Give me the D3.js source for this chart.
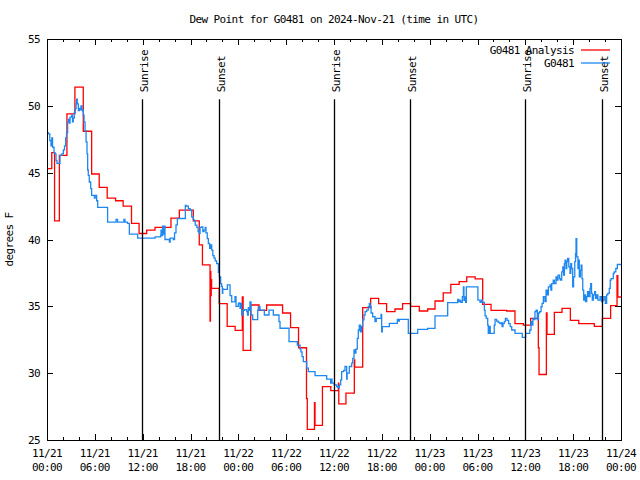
<!DOCTYPE html>
<html><head><meta charset="utf-8">
<script src="https://cdn.jsdelivr.net/npm/d3@7"></script>
<style>
body{margin:0;background:#fff;}
svg{display:block;}
text{font-family:"DejaVu Sans Mono","Liberation Mono",monospace;font-size:11px;letter-spacing:-0.6px;fill:#000;}
</style></head><body>
<svg id="chart" width="640" height="480"></svg>
<script>
// ---- data (hours since 2024-11-21 00:00 UTC, dew point in degrees F) ----
const chartTitle = "Dew Point for G0481 on 2024-Nov-21 (time in UTC)";
const yAxisLabel = "degrees F";
const seriesNames = ["G0481 Analysis", "G0481"];
const seriesColors = ["#ff0000", "#1e88f0"];
const yTicks = [25, 30, 35, 40, 45, 50, 55];
const sunLabels = ["Sunrise", "Sunset", "Sunrise", "Sunset", "Sunrise", "Sunset"];
const sunHours = [11.95, 21.6, 36.0, 45.57, 60.02, 69.65];

const analysisHours = [0.0,0.6,0.95,1.55,2.5,3.5,4.55,5.6,6.55,7.55,8.6,9.55,10.6,11.55,12.5,13.55,15.55,16.6,18.35,19.1,19.5,20.45,20.5,20.55,20.6,20.65,21.6,22.6,23.6,24.5,24.6,25.55,26.6,27.55,29.55,30.55,31.55,32.55,32.65,33.55,33.62,34.55,35.6,36.55,36.6,37.5,38.55,38.6,39.6,40.6,41.6,42.6,43.65,44.6,45.6,46.7,47.75,48.67,49.7,50.65,51.7,52.65,53.7,54.65,55.7,57.66,58.7,59.75,60.67,61.63,61.72,62.64,62.72,63.64,64.6,65.65,66.7,68.65,69.66,70.7,71.5,71.6,72.0];
const analysisValues = [45.3,46.5,41.4,46.3,49.4,51.4,48.1,44.9,43.9,43.1,42.9,42.5,41.2,40.45,40.7,40.9,41.6,42.2,41.4,39.6,38.1,33.9,37.6,35.8,37.0,36.35,35.2,33.5,33.2,35.7,31.7,35.1,34.7,35.1,34.5,33.4,31.9,28.1,25.8,27.8,26.1,29.0,28.7,29.25,27.7,28.5,31.0,30.45,34.9,35.6,35.2,34.6,34.8,35.2,35.0,34.65,34.8,35.4,36.0,36.65,36.85,37.2,37.05,35.15,34.7,34.65,33.7,33.6,34.1,31.9,29.9,34.5,32.9,34.55,34.85,33.95,33.7,33.5,34.1,35.05,37.3,35.7,35.7];

const obsHours = [0.0,0.17,0.35,0.5,0.6,0.7,0.88,1.0,1.13,1.25,1.63,1.85,2.05,2.2,2.34,2.45,2.59,2.7,2.8,2.89,3.1,3.2,3.3,3.43,3.55,3.65,3.72,3.8,3.93,4.05,4.15,4.26,4.4,4.56,4.65,4.77,4.9,5.02,5.1,5.18,5.3,5.48,5.6,5.94,6.05,6.23,6.36,7.6,8.66,8.85,9.65,9.78,10.1,10.33,11.37,12.0,13.55,14.26,14.3,14.4,14.5,14.6,14.7,14.8,15.35,15.45,15.85,16.0,16.18,16.35,17.35,17.5,17.73,17.95,18.15,18.35,18.45,18.6,18.8,18.95,19.1,19.2,19.4,19.55,19.7,19.85,19.94,20.1,20.24,20.4,20.55,20.66,20.8,20.95,21.1,21.28,21.5,21.62,21.78,21.9,22.0,22.05,22.1,22.62,22.96,23.17,23.58,23.71,24.0,24.1,24.21,24.3,24.42,24.55,24.75,25.05,25.15,25.25,25.4,25.46,25.59,25.8,26.43,26.5,26.72,27.26,27.85,28.39,29.1,29.23,30.36,31.4,31.74,31.85,31.99,32.15,32.58,32.78,33.62,35.08,35.58,35.7,35.75,36.04,36.34,36.5,36.67,36.84,36.96,37.2,37.38,37.59,37.65,37.92,38.22,38.35,38.51,38.62,38.75,38.92,39.05,39.17,39.3,39.45,39.6,39.76,39.9,40.1,40.3,40.43,40.55,40.65,40.85,41.14,41.3,41.9,41.98,42.06,42.94,43.95,44.05,44.2,45.32,46.5,47.75,48.67,50.26,51.52,51.65,51.75,51.9,52.1,52.23,52.3,52.4,52.5,52.6,53.98,54.05,54.32,54.5,54.6,54.86,54.95,55.1,55.28,55.35,55.5,55.6,56.1,56.2,56.4,56.6,56.8,57.0,57.08,57.2,57.35,57.5,57.7,57.9,58.1,58.29,58.71,59.62,60.04,60.55,60.71,60.85,60.95,61.05,61.21,61.35,61.5,61.65,61.8,61.97,62.1,62.26,62.45,62.6,62.75,62.89,63.1,63.2,63.31,63.5,63.65,63.85,63.95,64.1,64.3,64.4,64.56,64.7,64.8,64.9,64.98,65.1,65.2,65.31,65.45,65.6,65.7,65.8,65.94,66.05,66.2,66.3,66.36,66.45,66.6,66.7,66.77,66.9,67.0,67.1,67.2,67.32,67.45,67.55,67.7,67.8,67.95,68.11,68.2,68.3,68.4,68.53,68.7,68.8,68.95,69.1,69.37,69.55,69.7,69.85,70.03,70.2,70.35,70.53,70.65,70.75,71.03,71.15,71.35,71.54,72.0];
const obsValues = [48.0,47.9,47.4,47.0,47.6,46.9,46.5,46.4,45.9,45.7,46.3,46.4,46.7,47.0,47.6,48.0,48.8,49.0,48.7,49.15,49.3,48.8,49.1,49.5,49.8,50.15,50.5,50.15,49.65,49.8,49.7,50.0,49.65,49.3,48.8,48.15,47.3,46.4,45.2,44.8,44.3,43.8,43.3,43.1,43.3,42.9,42.4,41.3,41.5,41.3,41.5,41.3,41.2,40.4,40.1,40.1,40.2,40.3,40.7,40.3,41.0,40.4,41.0,40.0,39.8,40.1,40.0,40.5,41.1,41.57,42.56,42.5,42.3,42.2,41.7,41.5,41.37,41.07,40.9,40.6,40.45,40.9,40.94,40.6,40.7,40.9,40.5,40.07,39.7,39.33,39.6,39.2,38.8,38.6,38.4,38.2,37.54,37.2,36.7,36.5,35.97,36.3,36.27,36.6,35.8,35.34,35.72,35.0,35.2,35.25,34.85,35.2,34.35,34.7,34.75,34.6,34.35,34.9,34.7,35.34,34.35,34.0,34.72,34.95,34.72,34.35,34.72,34.35,33.85,33.36,32.36,32.1,31.8,31.6,31.24,30.87,30.37,30.12,29.82,29.55,29.25,29.55,29.25,29.13,29.0,28.9,29.13,29.5,30.12,30.2,30.5,29.55,30.0,30.5,30.75,31.1,31.74,31.5,31.8,32.6,33.23,33.6,33.1,33.5,33.98,34.35,34.6,34.72,34.97,35.22,34.97,34.5,34.22,33.85,34.1,34.4,33.1,33.48,33.73,34.03,33.9,34.03,32.98,33.28,33.35,34.28,35.27,35.52,35.35,35.45,35.3,35.72,36.46,35.45,35.7,35.3,36.46,36.46,35.47,35.3,35.47,35.3,34.72,34.28,34.1,33.6,32.98,33.5,32.98,33.6,34.03,33.9,33.8,33.7,33.78,33.48,33.7,33.85,34.1,33.95,33.7,33.48,33.23,32.98,32.68,32.98,33.23,33.85,33.6,34.1,34.0,34.6,34.72,34.0,34.5,34.6,34.97,35.22,35.72,35.35,36.22,35.85,36.46,36.6,36.22,36.7,36.96,36.7,37.2,36.96,37.33,37.08,36.96,37.58,37.95,37.33,38.2,38.46,37.83,38.34,38.58,37.95,37.46,38.2,37.83,36.46,37.2,38.34,38.95,40.07,38.7,37.83,38.46,37.2,37.7,38.08,37.08,36.22,35.47,35.85,35.35,35.72,36.1,35.72,36.34,36.7,35.97,35.47,35.85,36.1,35.6,35.85,35.47,35.72,35.35,35.47,35.72,35.22,35.85,35.97,36.34,36.96,37.08,37.46,37.58,37.83,38.13,38.13];

// ---- layout ----
const W = 640, H = 480;
const L = 47, R = 621, T = 39, B = 440;
const t0 = Date.UTC(2024, 10, 21, 0, 0);
const toDate = h => new Date(t0 + h * 3600000);

const svg = d3.select("#chart");
svg.append("rect").attr("width", W).attr("height", H).attr("fill", "#fff");

const x = d3.scaleUtc().domain([toDate(0), toDate(72)]).range([L, R]);
const y = d3.scaleLinear().domain([25, 55]).range([B, T]);

// title
svg.append("text").attr("x", (L + R) / 2).attr("y", 23).attr("text-anchor", "middle").text(chartTitle);

// y label
svg.append("text").attr("transform", `translate(13,${(T + B) / 2}) rotate(-90)`)
  .attr("text-anchor", "middle").text(yAxisLabel);

// axes via d3.axis (ticks drawn inward)
const majorTicks = d3.utcHour.every(6).range(toDate(0), toDate(72.01));
const minorTicks = d3.utcHour.every(2).range(toDate(0), toDate(72.01));
const fmtDay = d3.utcFormat("%m/%d"), fmtTime = d3.utcFormat("%H:%M");

function styleAxis(g) {
  g.select(".domain").remove();
  g.selectAll("line").attr("stroke", "#000").attr("shape-rendering", "crispEdges");
  g.selectAll("text").remove();
}
// bottom minor/major
svg.append("g").attr("transform", `translate(0,${B})`)
  .call(d3.axisTop(x).tickValues(minorTicks).tickSize(3)).call(styleAxis);
svg.append("g").attr("transform", `translate(0,${B})`)
  .call(d3.axisTop(x).tickValues(majorTicks).tickSize(6)).call(styleAxis);
// top mirror
svg.append("g").attr("transform", `translate(0,${T})`)
  .call(d3.axisBottom(x).tickValues(minorTicks).tickSize(3)).call(styleAxis);
svg.append("g").attr("transform", `translate(0,${T})`)
  .call(d3.axisBottom(x).tickValues(majorTicks).tickSize(6)).call(styleAxis);
// left / right
svg.append("g").attr("transform", `translate(${L},0)`)
  .call(d3.axisRight(y).tickValues(yTicks).tickSize(6)).call(styleAxis);
svg.append("g").attr("transform", `translate(${R},0)`)
  .call(d3.axisLeft(y).tickValues(yTicks).tickSize(6)).call(styleAxis);

// x tick labels (two lines)
const xl = svg.append("g");
majorTicks.forEach(d => {
  const t = xl.append("text").attr("x", x(d)).attr("text-anchor", "middle");
  t.append("tspan").attr("x", x(d)).attr("y", 457).text(fmtDay(d));
  t.append("tspan").attr("x", x(d)).attr("y", 471).text(fmtTime(d));
});
// y tick labels
yTicks.forEach(v => {
  svg.append("text").attr("x", 40).attr("y", y(v) + 4).attr("text-anchor", "end").text(v);
});

// data lines
const clip = svg.append("clipPath").attr("id", "clip").append("rect")
  .attr("x", L).attr("y", T).attr("width", R - L).attr("height", B - T);
const line = d3.line().x(d => x(toDate(d[0]))).y(d => y(d[1])).curve(d3.curveStepAfter);
const analysis = analysisHours.map((h, i) => [h, analysisValues[i]]);
const obs = obsHours.map((h, i) => [h, obsValues[i]]);
const plot = svg.append("g").attr("clip-path", "url(#clip)");
plot.append("path").datum(analysis).attr("d", line).attr("fill", "none")
  .attr("stroke", seriesColors[0]).attr("stroke-width", 1.3);
plot.append("path").datum(obs).attr("d", line).attr("fill", "none")
  .attr("stroke", seriesColors[1]).attr("stroke-width", 1.3);

// sunrise / sunset markers
const markTop = y.invert(T + (B - T) * 0.15);
sunHours.forEach((h, i) => {
  const xx = Math.round(x(toDate(h))) + 0.5;
  svg.append("line").attr("x1", xx).attr("x2", xx).attr("y1", y(markTop)).attr("y2", B)
    .attr("stroke", "#000").attr("stroke-width", 1.3);
  svg.append("text").attr("transform", `translate(${xx + 5},${y(markTop) - 7}) rotate(-90)`)
    .attr("text-anchor", "start").text(sunLabels[i]);
});

// border
svg.append("rect").attr("x", L + 0.5).attr("y", T + 0.5).attr("width", R - L).attr("height", B - T)
  .attr("fill", "none").attr("stroke", "#000").attr("shape-rendering", "crispEdges");

// legend
seriesNames.forEach((n, i) => {
  const ly = 50 + i * 13;
  svg.append("text").attr("x", 574).attr("y", ly + 4).attr("text-anchor", "end").text(n);
  svg.append("line").attr("x1", 581).attr("x2", 610).attr("y1", ly).attr("y2", ly)
    .attr("stroke", seriesColors[i]).attr("stroke-width", 1.3);
});
</script>
</body></html>
